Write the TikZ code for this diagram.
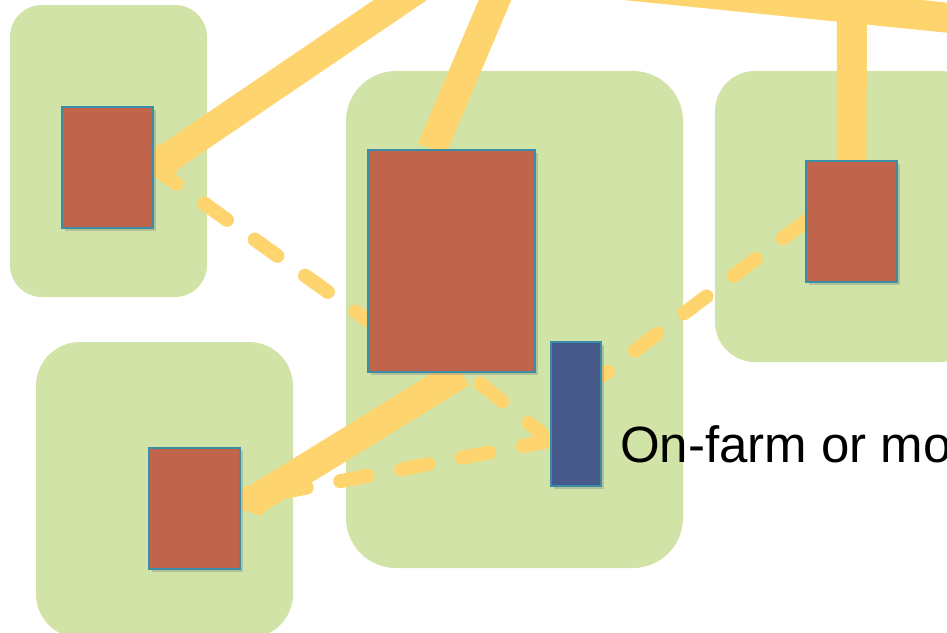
\documentclass[tikz,border=0pt]{standalone}
\usepackage{fontspec}
\setmainfont{Liberation Sans}
\usetikzlibrary{arrows.meta,shadows,backgrounds}
\definecolor{fieldgreen}{HTML}{D1E3A6}
\definecolor{farmred}{HTML}{C0654B}
\definecolor{storeblue}{HTML}{47588A}
\definecolor{edgeteal}{HTML}{3A8DA6}
\definecolor{flowyellow}{HTML}{FDD46E}

\begin{document}
\begin{tikzpicture}[x=1pt, y=-1pt,
      field/.style={rectangle, fill=fieldgreen, inner sep=0pt},
      farm/.style={rectangle, draw=edgeteal, line width=1.5pt, fill=farmred,
                   inner sep=0pt,
                   drop shadow={shadow xshift=3pt, shadow yshift=-3pt,
                                opacity=0.35}},
      store/.style={farm, fill=storeblue},
      mainflow/.style={draw=flowyellow, line width=30pt},
      sideflow/.style={draw=flowyellow, line width=14pt, line cap=round,
                       dash pattern=on 28pt off 34pt},
      bighead/.style={-{Triangle[width=42pt, length=18pt, round]}},
    ]

  \useasboundingbox (0,0) rectangle (947,632);

  \node[farm, minimum width=91pt, minimum height=121pt] (farmA) at (107.5,167.5) {};
  \node[farm, minimum width=167pt, minimum height=222pt] (farmB) at (451.5,261) {};
  \node[farm, minimum width=91pt, minimum height=121pt] (farmC) at (194.5,508.5) {};
  \node[farm, minimum width=91pt, minimum height=121pt] (farmD) at (851.5,221.5) {};
  \node[store, minimum width=50pt, minimum height=144pt] (store) at (576,414) {};

  \node[font=\fontsize{51}{60}\selectfont, anchor=base west, inner sep=0pt]
    (note) at (620,462) {On-farm or mo};

  \begin{scope}[on background layer]
    \node[field, rounded corners=32pt, minimum width=197pt, minimum height=292pt]
      (fieldA) at (108.5,151) {};
    \node[field, rounded corners=44pt, minimum width=257pt, minimum height=296pt]
      (fieldC) at (164.5,490) {};
    \node[field, rounded corners=50pt, minimum width=337pt, minimum height=497pt]
      (fieldB) at (514.5,319.5) {};
    \node[field, rounded corners=40pt, minimum width=265pt, minimum height=291pt]
      (fieldD) at (847.5,216.5) {};

    \coordinate (inA) at (418,-12);
    \coordinate (inB) at (500,-12);
    \coordinate (inL) at (555,-22);
    \coordinate (inR) at (990,22);
    \coordinate (inD) at (852,10);

    \draw[mainflow] (inL) -- (inR);
    \draw[mainflow] (inD) -- (farmD.north);
    \draw[mainflow] (inB) -- (farmB.100);
    \draw[mainflow, bighead] (inA) -- (farmA.east);
    \draw[mainflow, bighead] (farmB.-85) -- (farmC.east);

    \draw[sideflow] (farmA.east) -- (farmB.-145);
    \draw[sideflow] (store.-134) -- (farmB.-82);
    \draw[sideflow] (store.-134) -- (farmC.10);
    \draw[sideflow] (farmD.west) -- (store.56);
  \end{scope}

\end{tikzpicture}
\end{document}
